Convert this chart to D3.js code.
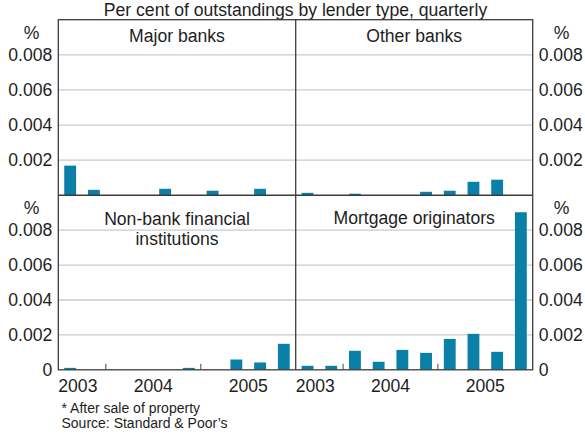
<!DOCTYPE html>
<html>
<head>
<meta charset="utf-8">
<script src="https://cdn.jsdelivr.net/npm/d3@7"></script>
<style>
  html, body { margin: 0; padding: 0; background: #fff; }
  svg { display: block; font-family: "Liberation Sans", Arial, sans-serif; }
</style>
</head>
<body>
<svg id="chart" width="585" height="435"></svg>
<script>
const quarters = ["2003Q3","2003Q4","2004Q1","2004Q2","2004Q3","2004Q4","2005Q1","2005Q2","2005Q3","2005Q4"];
const years = ["2003","2004","2005"];
const panelNames = ["Major banks","Other banks","Non-bank financial|institutions","Mortgage originators"];
const majorBanks   = [0.00169,0.00031,0,0,0.00037,0,0.00026,0,0.00037,0];
const otherBanks   = [0.00014,0,0.00009,0,0,0.0002,0.00026,0.00077,0.00089,0];
const nonBank      = [0.00011,0,0,0,0,0.00011,0,0.00059,0.00042,0.00149];
const mortgageOrig = [0.00023,0.00023,0.00109,0.00046,0.00114,0.00097,0.00177,0.00206,0.00103,0.00903];
const yTicksTop = [0.002,0.004,0.006,0.008];
const yTicksBottom = [0,0.002,0.004,0.006,0.008];
const title = "Per cent of outstandings by lender type, quarterly";
const footnotes = ["* After sale of property","Source: Standard & Poor\u2019s"];

const svg = d3.select("#chart");
const barColor = "#0a7fa8";
const gridColor = "#c9ccd0";
const frameColor = "#3c3c3c";
const textColor = "#1e1e1e";
const FS = 17.6;

const L = 58.3, M = 295.7, R = 532.7;
const T = 19.7, MID = 195.3, B = 369.8;

const panels = [
  {name: panelNames[0], data: majorBanks,   x0: L, x1: M, y0: T,   y1: MID, side: "left",  ticks: yTicksTop, bottom: false, tOff: 22},
  {name: panelNames[1], data: otherBanks,   x0: M, x1: R, y0: T,   y1: MID, side: "right", ticks: yTicksTop, bottom: false, tOff: 22},
  {name: panelNames[2], data: nonBank,      x0: L, x1: M, y0: MID, y1: B,   side: "left",  ticks: yTicksBottom, bottom: true, tOff: 29.5},
  {name: panelNames[3], data: mortgageOrig, x0: M, x1: R, y0: MID, y1: B,   side: "right", ticks: yTicksBottom, bottom: true, tOff: 29}
];

svg.append("text").attr("x", (L+R)/2 + 0).attr("y", 16)
  .attr("text-anchor","middle").attr("font-size", FS).attr("fill", textColor).text(title);

panels.forEach(p => {
  const x = d3.scaleBand().domain(quarters).range([p.x0, p.x1]).paddingInner(0.5).paddingOuter(0.25);
  const y = d3.scaleLinear().domain([0, 0.01]).range([p.y1, p.y0]);
  const g = svg.append("g");

  g.selectAll("line.grid").data(yTicksTop).join("line")
    .attr("x1", p.x0).attr("x2", p.x1)
    .attr("y1", d => y(d)).attr("y2", d => y(d))
    .attr("stroke", gridColor).attr("stroke-width", 1.3);

  g.selectAll("rect").data(p.data).join("rect")
    .attr("x", (d,i) => x(quarters[i]))
    .attr("width", x.bandwidth())
    .attr("y", d => y(d))
    .attr("height", d => y(0) - y(d))
    .attr("fill", barColor);

  const axis = (p.side === "left" ? d3.axisLeft(y) : d3.axisRight(y))
    .tickValues(p.ticks).tickFormat(d => d === 0 ? "0" : d3.format(".3f")(d))
    .tickSize(0).tickPadding(6);
  const ax = svg.append("g")
    .attr("transform", `translate(${p.side === "left" ? p.x0 : p.x1},0)`)
    .call(axis);
  ax.select(".domain").remove();
  ax.selectAll("text").attr("font-size", FS).attr("fill", textColor)
    .attr("font-family", "Liberation Sans, Arial, sans-serif");
  svg.append("text")
    .attr("x", p.side === "left" ? 31.7 : 561.5)
    .attr("y", p.y0 + 19)
    .attr("text-anchor","middle").attr("font-size", FS).attr("fill", textColor).text("%");

  const lines = p.name.split("|");
  lines.forEach((ln, k) => {
    svg.append("text").attr("x", (p.x0 + p.x1)/2).attr("y", p.y0 + p.tOff + k*20)
      .attr("text-anchor","middle").attr("font-size", FS).attr("fill", textColor).text(ln);
  });

  if (p.bottom) {
    const step = x.step();
    const boundaries = quarters.filter((q,i) => i > 0 && q.endsWith("Q1")).map(q => x(q) - step*0.25);
    g.selectAll("line.tick").data(boundaries).join("line")
      .attr("x1", d => d).attr("x2", d => d)
      .attr("y1", p.y1 - 6).attr("y2", p.y1)
      .attr("stroke", "#707070").attr("stroke-width", 1.3);
    years.forEach(yr => {
      const qi = quarters.findIndex(q => q.startsWith(yr));
      const qn = +quarters[qi].slice(5) - 1;
      const start = x(quarters[qi]) - step*0.25 - qn*step;
      let cx = start + 2*step;
      const t = svg.append("text").attr("y", 392.3).attr("text-anchor","middle")
        .attr("font-size", FS).attr("fill", textColor).text(yr);
      const w = t.node().getComputedTextLength();
      cx = Math.max(p.x0 + w/2, Math.min(p.x1 - w/2, cx));
      t.attr("x", cx);
    });
  }
});

svg.append("rect").attr("x", L).attr("y", T).attr("width", R-L).attr("height", B-T)
  .attr("fill","none").attr("stroke", frameColor).attr("stroke-width", 1.3);
svg.append("line").attr("x1", M).attr("x2", M).attr("y1", T).attr("y2", B)
  .attr("stroke", frameColor).attr("stroke-width", 1.3);
svg.append("line").attr("x1", L).attr("x2", R).attr("y1", MID).attr("y2", MID)
  .attr("stroke", frameColor).attr("stroke-width", 1.6);

footnotes.forEach((f, i) => {
  svg.append("text").attr("x", 61.5).attr("y", 413 + i*15.3)
    .attr("font-size", 14).attr("fill", textColor).text(f);
});
</script>
</body>
</html>
